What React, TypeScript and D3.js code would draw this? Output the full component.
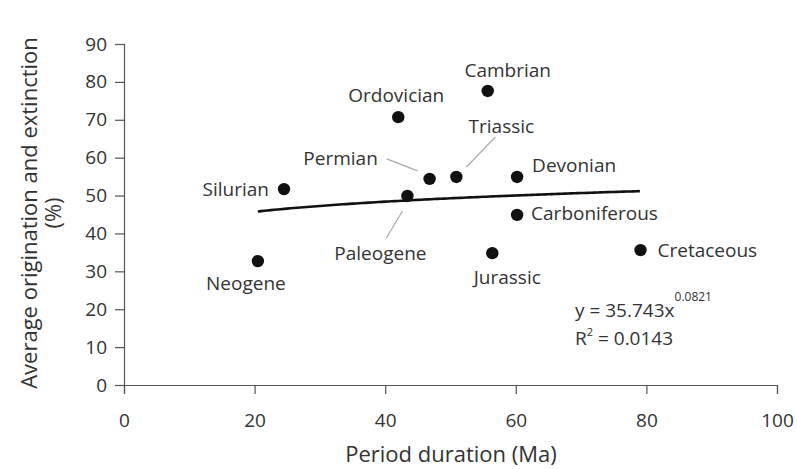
import { useEffect, useRef } from "react";
import * as d3 from "d3";

const periods = ["Cambrian", "Ordovician", "Silurian", "Devonian", "Carboniferous", "Permian", "Triassic", "Jurassic", "Cretaceous", "Paleogene", "Neogene"];
const duration = [55.7, 42.0, 24.5, 60.2, 60.2, 46.8, 50.9, 56.4, 79.1, 43.4, 20.5];
const turnover = [77.6, 70.7, 51.7, 54.9, 44.9, 54.4, 54.9, 34.8, 35.6, 49.9, 32.7];

const xTicks = [0, 20, 40, 60, 80, 100];
const yTicks = [0, 10, 20, 30, 40, 50, 60, 70, 80, 90];

// power-law fit printed on the chart
const fitA = 35.743;
const fitB = 0.0821;

const width = 797;
const height = 469;
const marginTop = 44;
const marginRight = 19;
const marginBottom = 84;
const marginLeft = 124;

// label placement: [dx, dy, anchor] relative to the point
const labelPos: Record<string, [number, number, string]> = {
  Cambrian: [20, -21, "middle"],
  Ordovician: [-2, -22, "middle"],
  Silurian: [-15, 0, "end"],
  Devonian: [15, -12, "start"],
  Carboniferous: [14, -2, "start"],
  Permian: [-89, -21, "middle"],
  Triassic: [45, -51, "middle"],
  Jurassic: [15, 24, "middle"],
  Cretaceous: [17, 0, "start"],
  Paleogene: [-27, 57, "middle"],
  Neogene: [-12, 22, "middle"],
};

// leader lines for crowded labels: [x1, y1, x2, y2] offsets from point
const leaders: Record<string, [number, number, number, number]> = {
  Permian: [-43, -20, -12, -8],
  Triassic: [39, -40, 10, -10],
  Paleogene: [-5, 15, -21, 42],
};

export default function App() {
  const gx = useRef<SVGGElement>(null);
  const gy = useRef<SVGGElement>(null);

  const x = d3.scaleLinear([0, 100], [marginLeft, width - marginRight - 1]);
  const y = d3.scaleLinear([0, 90], [height - marginBottom, marginTop]);

  const fitX = [d3.min(duration)!, d3.max(duration)!];
  const fitPts = d3.range(fitX[0], fitX[1] + 0.01, 0.5).map((d) => [d, fitA * Math.pow(d, fitB)] as [number, number]);
  const line = d3.line<[number, number]>().x((d) => x(d[0])).y((d) => y(d[1]));

  const font = "'Open Sans', sans-serif";
  const txt = "#333";

  useEffect(() => {
    d3.select(gx.current!)
      .call(d3.axisBottom(x).tickValues(xTicks).tickSize(9).tickPadding(20))
      .call((g) => g.selectAll("path,line").attr("stroke", "#555").attr("stroke-width", 1.2))
      .call((g) => g.selectAll("text").attr("fill", txt).attr("font-size", 19).attr("font-family", font));
    d3.select(gy.current!)
      .call(d3.axisLeft(y).tickValues(yTicks).tickSize(9).tickPadding(8))
      .call((g) => g.selectAll("path,line").attr("stroke", "#555").attr("stroke-width", 1.2))
      .call((g) => g.selectAll("text").attr("fill", txt).attr("font-size", 19).attr("font-family", font));
  }, []);

  return (
    <svg width={width} height={height} style={{ position: "absolute", left: 0, top: 0, background: "#fff" }} fontFamily={font}>
      <g ref={gx} transform={`translate(0,${height - marginBottom})`} />
      <g ref={gy} transform={`translate(${marginLeft},0)`} />
      <path d={line(fitPts)!} fill="none" stroke="#111" strokeWidth={2.6} />
      {periods.map((p, i) => {
        const l = leaders[p];
        if (!l) return null;
        const px = x(duration[i]);
        const py = y(turnover[i]);
        return <line key={p} x1={px + l[0]} y1={py + l[1]} x2={px + l[2]} y2={py + l[3]} stroke="#aaa" strokeWidth={1.2} />;
      })}
      {periods.map((p, i) => (
        <circle key={p} cx={x(duration[i])} cy={y(turnover[i])} r={6.2} fill="#111" />
      ))}
      {periods.map((p, i) => {
        const [dx, dy, anchor] = labelPos[p];
        return (
          <text key={p} x={x(duration[i]) + dx} y={y(turnover[i]) + dy} textAnchor={anchor as any} dominantBaseline="central" fontSize={19} fill={txt}>
            {p}
          </text>
        );
      })}
      <text x={575} y={317} fontSize={19} fill={txt}>
        y = 35.743x
        <tspan dy={-16} fontSize={12}>0.0821</tspan>
      </text>
      <text x={575} y={345} fontSize={19} fill={txt}>
        R<tspan dy={-9} fontSize={11}>2</tspan>
        <tspan dy={9}> = 0.0143</tspan>
      </text>
      <text transform={`translate(28,213) rotate(-90)`} textAnchor="middle" dominantBaseline="central" fontSize={22} fill={txt}>
        Average origination and extinction
      </text>
      <text transform={`translate(52,213) rotate(-90)`} textAnchor="middle" dominantBaseline="central" fontSize={22} fill={txt}>
        (%)
      </text>
      <text x={451} y={462} textAnchor="middle" fontSize={22} fill={txt}>
        Period duration (Ma)
      </text>
    </svg>
  );
}
